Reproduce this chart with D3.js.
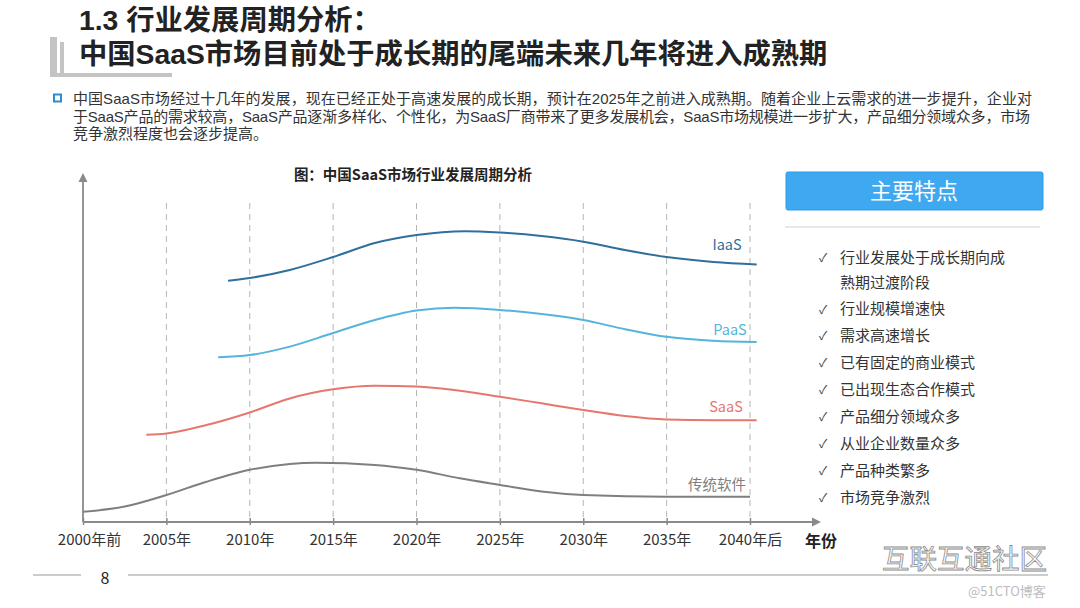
<!DOCTYPE html>
<html><head><meta charset="utf-8">
<script src="https://cdn.jsdelivr.net/npm/d3@7/dist/d3.min.js"></script>
<style>
html,body{margin:0;padding:0;background:#fff;}
svg{display:block;font-family:"Noto Sans CJK SC","Noto Sans",sans-serif;}
.tight{font-family:"Liberation Sans","Noto Sans CJK SC",sans-serif;}
</style></head>
<body>
<svg id="chart" width="1080" height="608"></svg>
<script>
// ---------- data ----------
const titleLines = ["1.3 行业发展周期分析：", "中国SaaS市场目前处于成长期的尾端未来几年将进入成熟期"];
const introLines = [
  "中国SaaS市场经过十几年的发展，现在已经正处于高速发展的成长期，预计在2025年之前进入成熟期。随着企业上云需求的进一步提升，企业对",
  "于SaaS产品的需求较高，SaaS产品逐渐多样化、个性化，为SaaS厂商带来了更多发展机会，SaaS市场规模进一步扩大，产品细分领域众多，市场",
  "竞争激烈程度也会逐步提高。"
];
const chartTitle = "图：中国SaaS市场行业发展周期分析";
const tickYears = [2000, 2005, 2010, 2015, 2020, 2025, 2030, 2035, 2040];
const tickLabels = ["2000年前", "2005年", "2010年", "2015年", "2020年", "2025年", "2030年", "2035年", "2040年后"];
const axisName = "年份";

const iaasYears = [2008.7, 2010, 2012.4, 2015, 2017.5, 2020, 2022.9, 2025, 2027.5, 2030, 2032.5, 2035, 2037.8, 2040.4];
const iaasVals  = [68.9, 69.7, 72.0, 75.7, 79.7, 82.0, 83.1, 82.7, 81.7, 80.1, 77.7, 75.7, 74.3, 73.6];
const paasYears = [2008.1, 2010, 2012.4, 2015, 2017.5, 2020, 2022.3, 2025, 2027.5, 2030, 2032.5, 2035, 2037.8, 2040.4];
const paasVals  = [47.1, 47.7, 50.1, 54.0, 57.7, 60.4, 61.2, 60.6, 59.4, 57.7, 55.1, 52.9, 51.8, 51.4];
const saasYears = [2003.8, 2005, 2007.4, 2010, 2012.4, 2015, 2017.5, 2020, 2022.6, 2025, 2027.5, 2030, 2032.5, 2035, 2037.8, 2040.4];
const saasVals  = [24.9, 25.3, 27.7, 31.3, 35.3, 37.9, 38.9, 38.7, 37.5, 35.8, 33.9, 32.0, 30.3, 29.3, 29.1, 29.1];
const tradYears = [2000, 2002.5, 2005, 2007.4, 2010, 2012.4, 2014, 2017.5, 2020, 2022.6, 2025, 2027.5, 2030, 2035, 2040];
const tradVals  = [2.9, 4.4, 7.7, 11.5, 14.9, 16.6, 16.9, 16.3, 14.9, 12.5, 10.6, 8.7, 7.7, 7.2, 7.2];
const seriesNames = ["IaaS", "PaaS", "SaaS", "传统软件"];

const panelTitle = "主要特点";
const features = ["行业发展处于成长期向成", "熟期过渡阶段", "行业规模增速快", "需求高速增长", "已有固定的商业模式",
  "已出现生态合作模式", "产品细分领域众多", "从业企业数量众多", "产品种类繁多", "市场竞争激烈"];
const featureChecks = [true, false, true, true, true, true, true, true, true, true];
const pageNumber = "8";

// ---------- drawing ----------
const svg = d3.select("#chart");
const colors = ["#2f6f9c", "#56b4dc", "#e6766e", "#7f7f7f"];

// header decoration
svg.append("rect").attr("x", 50).attr("y", 37).attr("width", 7).attr("height", 40).attr("fill", "#c4c4c4");
svg.append("rect").attr("x", 60).attr("y", 42).attr("width", 4).attr("height", 35).attr("fill", "#c4c4c4");
svg.append("rect").attr("x", 50).attr("y", 73).attr("width", 122).attr("height", 4).attr("fill", "#c4c4c4");

svg.selectAll("text.title").data(titleLines).enter().append("text")
  .attr("class", "tight")
  .attr("x", 79).attr("y", (d, i) => 30 + i * 34)
  .attr("font-size", 28.3).attr("font-weight", "bold").attr("fill", "#222")
  .text(d => d);

// intro bullet
svg.append("rect").attr("x", 54).attr("y", 94.5).attr("width", 7).attr("height", 7)
  .attr("fill", "none").attr("stroke", "#2a8fd0").attr("stroke-width", 2);
const introWidths = [959, 957, null];
svg.selectAll("text.intro").data(introLines).enter().append("text")
  .attr("class", "tight")
  .attr("x", 73).attr("y", (d, i) => 104 + i * 17.5)
  .attr("font-size", 15).attr("fill", "#333")
  .each(function (d, i) {
    if (introWidths[i]) d3.select(this).attr("textLength", introWidths[i]).attr("lengthAdjust", "spacing");
  })
  .text(d => d);

// chart
const x = d3.scaleLinear().domain([2000, 2040]).range([83, 750]);
const y = d3.scaleLinear().domain([0, 100]).range([522, 172]);
const axisY = 522, axisX0 = 83;

svg.append("text").attr("x", 413).attr("y", 180).attr("text-anchor", "middle")
  .attr("font-size", 14.5).attr("font-weight", "bold").attr("fill", "#222").text(chartTitle);

// dashed grid
svg.selectAll("line.grid").data(tickYears.slice(1)).enter().append("line")
  .attr("x1", d => x(d)).attr("x2", d => x(d)).attr("y1", 203).attr("y2", axisY)
  .attr("stroke", "#b5b5b5").attr("stroke-width", 1).attr("stroke-dasharray", "6,5");

// axes
const xAxis = d3.axisBottom(x).tickValues(tickYears).tickSize(0).tickFormat((d, i) => tickLabels[i]);
const gx = svg.append("g").attr("transform", `translate(0,${axisY})`).call(xAxis);
gx.select(".domain").remove();
gx.selectAll("text").attr("font-size", 15).attr("fill", "#333").attr("dy", "1.35em")
  .attr("dx", (d, i) => i === 0 ? 6 : 0)
  .attr("font-family", '"Noto Sans CJK SC",sans-serif');
gx.selectAll(".tick").append("line").attr("y1", -4).attr("y2", 3).attr("stroke", "#888").attr("stroke-width", 1.5);

svg.append("line").attr("x1", axisX0).attr("x2", 812).attr("y1", axisY).attr("y2", axisY)
  .attr("stroke", "#8a8a8a").attr("stroke-width", 1.8);
svg.append("path").attr("d", `M812,${axisY - 4.5}L821,${axisY}L812,${axisY + 4.5}Z`).attr("fill", "#8a8a8a");
svg.append("line").attr("x1", axisX0).attr("x2", axisX0).attr("y1", axisY).attr("y2", 182)
  .attr("stroke", "#8a8a8a").attr("stroke-width", 1.8);
svg.append("path").attr("d", `M${axisX0 - 4.5},182L${axisX0},173L${axisX0 + 4.5},182Z`).attr("fill", "#8a8a8a");

svg.append("text").attr("x", 805).attr("y", 547).attr("font-size", 16).attr("font-weight", "bold")
  .attr("fill", "#222").text(axisName);

// curves
const seriesData = [
  [iaasYears, iaasVals], [paasYears, paasVals], [saasYears, saasVals], [tradYears, tradVals]
];
const line = d3.line().x(d => x(d[0])).y(d => y(d[1])).curve(d3.curveMonotoneX);
seriesData.forEach((s, i) => {
  const pts = s[0].map((yr, j) => [yr, s[1][j]]);
  svg.append("path").datum(pts).attr("d", line).attr("fill", "none")
    .attr("stroke", colors[i]).attr("stroke-width", 2);
});
const labelPos = [[727, 250], [730, 335], [726, 412], [717, 490]];
svg.selectAll("text.slabel").data(seriesNames).enter().append("text")
  .attr("x", (d, i) => labelPos[i][0]).attr("y", (d, i) => labelPos[i][1])
  .attr("text-anchor", "middle").attr("font-size", 14.5)
  .attr("fill", (d, i) => colors[i]).text(d => d);

// right panel
svg.append("rect").attr("x", 786).attr("y", 172).attr("width", 257).attr("height", 38).attr("rx", 2)
  .attr("fill", "#3ea8f0").attr("stroke", "#2f9be6").attr("stroke-width", 1);
svg.append("text").attr("x", 914).attr("y", 199).attr("text-anchor", "middle")
  .attr("font-size", 22).attr("fill", "#fff").text(panelTitle);
svg.append("line").attr("x1", 785).attr("x2", 1040).attr("y1", 227).attr("y2", 227)
  .attr("stroke", "#d0d0d0").attr("stroke-width", 1);
const rowY = [257, 282, 308.5, 335, 362, 389, 416, 443, 470, 497];
features.forEach((f, i) => {
  if (featureChecks[i]) {
    svg.append("text").attr("x", 819).attr("y", rowY[i] + 5).attr("font-size", 12).attr("fill", "#444").text("✓");
  }
  svg.append("text").attr("x", 840).attr("y", rowY[i] + 5.5).attr("font-size", 15).attr("fill", "#333").text(f);
});

// footer
svg.append("line").attr("x1", 33).attr("x2", 81).attr("y1", 575).attr("y2", 575).attr("stroke", "#999").attr("stroke-width", 1);
svg.append("line").attr("x1", 128).attr("x2", 1048).attr("y1", 575).attr("y2", 575).attr("stroke", "#999").attr("stroke-width", 1);
svg.append("text").attr("x", 105).attr("y", 584).attr("text-anchor", "middle").attr("font-size", 16).attr("fill", "#222").text(pageNumber);

// watermark-like signature (bottom right)
svg.append("text").attr("x", 882).attr("y", 569).attr("font-size", 27.5).attr("fill", "#fff")
  .attr("stroke", "#8a8a8a").attr("stroke-width", 0.8).text("互联互通社区");
svg.append("text").attr("x", 968).attr("y", 596).attr("font-size", 13).attr("fill", "#bdbdbd").text("@51CTO博客");
</script>
</body></html>
